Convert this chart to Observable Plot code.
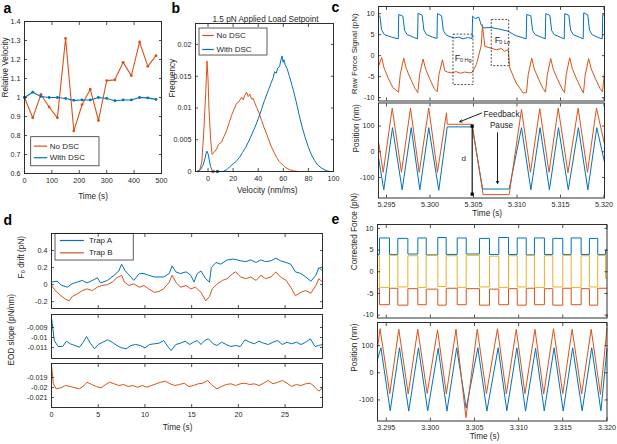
<!DOCTYPE html>
<html>
<head>
<meta charset="utf-8">
<script src="https://cdn.jsdelivr.net/npm/d3@7"></script>
<script src="https://cdn.jsdelivr.net/npm/@observablehq/plot@0.6"></script>
<style>
  html, body { margin: 0; padding: 0; background: #fff; }
  #fig { position: relative; width: 617px; height: 444px; overflow: hidden; background: #fff; }
  #fig > svg { position: absolute; left: 0; top: 0; }
</style>
</head>
<body>
<div id="fig"></div>
<script>
// ================= DATA =================
// Panel a: relative velocity vs time
const aTime = [0, 30, 60, 90, 120, 150, 180, 210, 240, 270, 300, 330, 360, 390, 420, 450, 480];
const aNoDSC = [1.0, 0.893, 1.016, 0.95, 0.893, 1.311, 0.824, 0.962, 1.044, 0.879, 1.089, 1.093, 1.185, 1.115, 1.292, 1.164, 1.22];
const aWithDSC = [1.0, 1.028, 1.005, 1.0, 1.0, 0.995, 0.985, 0.987, 0.987, 1.0, 0.995, 0.983, 0.987, 0.987, 1.0, 0.998, 0.99];
const aXTicks = [0, 100, 200, 300, 400, 500];
const aYTicks = [0.6, 0.7, 0.8, 0.9, 1, 1.1, 1.2, 1.3, 1.4];

// Panel b: velocity histograms
const bNoVel = [-8, -6.7, -5, -3.5, -1.9, -0.8, 0, 0.8, 2.1, 3.2, 4.8, 6.7, 8.5, 10.7, 12.7, 14.7, 16.7, 18.7, 20.7, 22.7, 24.7, 26.7, 28, 29.3, 30.7, 32, 33.3, 34.7, 36, 37.3, 38.7, 40.7, 42.7, 44.7, 46.7, 48.7, 50.7, 52.7, 54.7, 56.7, 58.7, 60.7, 62.7, 65, 68, 72];
const bNoFreq = [0, 0.0002, 0.0015, 0.0059, 0.0122, 0.0174, 0.0145, 0.0096, 0.0049, 0.0027, 0.003, 0.0035, 0.0043, 0.0046, 0.0055, 0.0064, 0.0076, 0.0088, 0.0098, 0.0107, 0.011, 0.0117, 0.0113, 0.012, 0.0125, 0.0118, 0.0122, 0.0114, 0.0115, 0.0108, 0.0101, 0.0092, 0.008, 0.0069, 0.0059, 0.0048, 0.0038, 0.003, 0.0022, 0.0016, 0.0012, 0.0008, 0.0005, 0.0003, 0.0001, 0];
const bWithVel = [-9, -6, -4, -2.5, -1.5, -0.8, 0, 1, 2, 3, 4, 12, 15, 17, 20, 22.5, 25, 27.5, 30, 32.5, 35, 37.5, 40, 42.5, 45, 47.5, 50, 52, 53, 54.5, 55.5, 57, 58, 59, 59.8, 60.5, 61.5, 63, 65, 67, 68, 70, 72.5, 75, 77.5, 80, 82.5, 85, 87.5, 90, 92.5, 95, 97];
const bWithFreq = [0, 0.0003, 0.001, 0.002, 0.0029, 0.0032, 0.0028, 0.0018, 0.0008, 0.0003, 0, 0, 0.0003, 0.0007, 0.0012, 0.0016, 0.0022, 0.003, 0.0038, 0.0048, 0.0059, 0.007, 0.0083, 0.0097, 0.0112, 0.0125, 0.0138, 0.0148, 0.0157, 0.0155, 0.0163, 0.0165, 0.0175, 0.0182, 0.0172, 0.0176, 0.0168, 0.0162, 0.0149, 0.0135, 0.0128, 0.0112, 0.009, 0.007, 0.0053, 0.0038, 0.0026, 0.0017, 0.001, 0.0006, 0.0003, 0.0001, 0];
const bNoMark = [4];
const bWithMark = [7.5];
const bXTicks = [0, 20, 40, 60, 80, 100];
const bYTicks = [0, 0.005, 0.01, 0.015, 0.02];

// Panel c (top): raw force signal
const cForceTimeA = [5.29408, 5.29425, 5.29443, 5.29475, 5.29560, 5.29635,
  5.29641, 5.29688, 5.29708, 5.29738, 5.29808, 5.29857,
  5.29863, 5.29910, 5.29930, 5.29960, 5.30030, 5.30080,
  5.30086, 5.30133, 5.30153, 5.30183, 5.30230, 5.30280, 5.30330, 5.30380, 5.30430, 5.30484,
  5.30490, 5.30520, 5.30560, 5.30590, 5.30620, 5.30700, 5.30800, 5.30900, 5.30980, 5.31060, 5.31106,
  5.31112, 5.31159, 5.31179, 5.31209, 5.31279, 5.31325,
  5.31331, 5.31378, 5.31398, 5.31428, 5.31498, 5.31543,
  5.31549, 5.31596, 5.31616, 5.31646, 5.31716, 5.31761,
  5.31767, 5.31814, 5.31834, 5.31864, 5.31934, 5.31980,
  5.31986, 5.32006];
const cForceA = [9.5, 9.4, 6.2, 5.0, 4.4, 4.0,
  9.8, 9.4, 6.0, 5.0, 4.4, 4.0,
  10.1, 9.6, 6.1, 5.0, 4.4, 4.1,
  10.0, 9.5, 6.0, 5.0, 4.5, 4.2, 4.4, 4.0, 4.3, 4.1,
  9.4, 8.8, 9.2, 7.2, 6.6, 6.7, 6.3, 5.8, 4.8, 4.3, 4.0,
  9.8, 9.5, 6.0, 5.0, 4.4, 4.0,
  10.0, 9.6, 6.0, 5.0, 4.4, 4.0,
  10.0, 9.6, 6.1, 5.0, 4.4, 4.0,
  10.2, 9.7, 6.0, 5.0, 4.3, 4.0,
  9.8, 9.6];
const cForceTimeB = [5.29408, 5.29443, 5.29473, 5.29523, 5.29573, 5.29638,
  5.29658, 5.29698, 5.29728, 5.29778, 5.29828, 5.29860,
  5.29880, 5.29920, 5.29950, 5.30000, 5.30050, 5.30083,
  5.30103, 5.30143, 5.30170, 5.30200, 5.30250, 5.30300, 5.30350, 5.30400, 5.30450, 5.30485,
  5.30534, 5.30590, 5.30603, 5.30630, 5.30700, 5.30760, 5.30820, 5.30860, 5.30899, 5.30917, 5.30990, 5.31071, 5.31109,
  5.31129, 5.31169, 5.31199, 5.31249, 5.31299, 5.31328,
  5.31348, 5.31388, 5.31418, 5.31468, 5.31518, 5.31546,
  5.31566, 5.31606, 5.31636, 5.31686, 5.31736, 5.31764,
  5.31784, 5.31824, 5.31854, 5.31904, 5.31954, 5.31983,
  5.32006];
const cForceB = [-2.6, -0.4, -3.0, -5.5, -7.6, -8.7,
  -4.5, -0.6, -3.1, -5.6, -7.8, -8.8,
  -4.6, -0.8, -3.2, -5.7, -7.9, -8.6,
  -4.5, -1.0, -3.6, -3.9, -4.1, -3.8, -4.2, -3.9, -4.1, -4.0,
  -2.1, 2.5, 7.4, 2.2, 1.8, 1.4, 1.7, 1.0, 1.5, -2.9, -6.5, -8.9, -8.8,
  -4.5, -0.6, -3.2, -5.6, -7.8, -8.7,
  -4.6, -0.7, -3.3, -5.7, -7.9, -8.8,
  -4.5, -0.5, -3.1, -5.6, -7.8, -8.9,
  -4.6, -0.7, -3.2, -5.6, -7.8, -8.6,
  -4.0];
const cXTicks = [5.295, 5.3, 5.305, 5.31, 5.315, 5.32];
const cForceYTicks = [-10, -5, 0, 5, 10];

// Panel c (bottom): positions
const cPosTimeA = [5.29408, 5.29469, 5.29569, 5.29680, 5.29784, 5.29883, 5.29986, 5.30101, 5.30198, 5.30485, 5.30605, 5.30910, 5.31052, 5.31160, 5.31265, 5.31373, 5.31477, 5.31590, 5.31706, 5.31815, 5.31917, 5.32006];
const cPosA = [-22, -148, 94, -148, 94, -148, 94, -150, 97, 97, -145, -145, 94, -148, 94, -148, 94, -148, 94, -148, 94, -40];
const cPosTimeB = [5.29408, 5.29462, 5.29566, 5.29672, 5.29776, 5.29876, 5.29986, 5.30086, 5.30190, 5.30198, 5.30485, 5.30611, 5.30910, 5.31052, 5.31155, 5.31262, 5.31368, 5.31474, 5.31586, 5.31703, 5.31810, 5.31914, 5.32006];
const cPosB = [40, -80, 170, -80, 170, -80, 170, -80, 152, 107, 107, -167, -167, 165, -80, 168, -80, 170, -82, 170, -80, 170, 30];
const cDTime = [5.30485, 5.30485];
const cDPos = [100, -165];
const cPosYTicks = [-100, 0, 100];

// Panel d: drift and EOD slope
const dTimeA = [0, 0.6, 1.1, 1.7, 2.2, 2.75, 3.3, 3.8, 4.4, 4.9, 5.25, 6.0, 6.7, 7.2, 7.5, 7.9, 8.5, 8.8, 9.4, 9.9, 10.4, 11.0, 11.5, 12.0, 12.6, 12.9, 13.3, 13.8, 14.4, 14.9, 15.25, 15.6, 16.0, 16.5, 16.9, 17.1, 17.6, 18.1, 18.8, 19.5, 20.25, 20.8, 21.3, 21.9, 22.4, 22.9, 23.5, 24.0, 24.5, 25.1, 25.6, 26.1, 26.7, 27.2, 27.75, 28.3, 28.6, 29.0];
const dTrapA = [0.03, 0.04, -0.01, -0.03, 0.01, 0.03, 0.05, 0.02, 0.05, 0.08, 0.02, 0.05, 0.11, 0.16, 0.24, 0.16, 0.09, 0.05, 0.13, 0.13, 0.11, 0.09, 0.09, 0.09, 0.13, 0.22, 0.15, 0.13, 0.15, 0.11, 0.03, 0.13, 0.16, 0.07, 0.03, 0.2, 0.26, 0.24, 0.29, 0.3, 0.28, 0.27, 0.29, 0.26, 0.29, 0.27, 0.28, 0.31, 0.28, 0.26, 0.24, 0.15, 0.13, 0.09, 0.04, 0.11, 0.2, 0.16];
const dTimeB = [0, 0.4, 1.0, 1.5, 1.9, 2.2, 2.75, 3.3, 3.8, 4.4, 4.9, 5.4, 6.0, 6.5, 7.0, 7.5, 7.8, 8.3, 8.8, 9.4, 9.9, 10.4, 11.0, 11.5, 12.0, 12.6, 12.9, 13.3, 13.8, 14.4, 14.9, 15.4, 16.0, 16.5, 16.9, 17.2, 17.75, 18.3, 18.8, 19.4, 19.7, 20.25, 20.8, 21.3, 21.9, 22.4, 22.9, 23.5, 24.0, 24.5, 25.1, 25.6, 26.1, 26.7, 27.2, 27.75, 28.3, 28.6, 29.0];
const dTrapB = [-0.01, -0.07, -0.13, -0.17, -0.19, -0.14, -0.11, -0.07, -0.05, -0.07, -0.03, -0.01, 0, 0.03, 0.08, 0.11, 0.03, -0.01, 0.01, -0.03, -0.01, -0.05, -0.09, -0.08, -0.05, 0.03, 0.11, 0.03, -0.03, -0.01, -0.05, -0.03, -0.09, -0.19, -0.14, -0.05, 0.01, 0.05, 0.07, 0.13, 0.15, 0.09, 0.07, 0.09, 0.05, 0.11, 0.07, 0.09, 0.15, 0.09, 0.05, -0.03, -0.13, -0.09, -0.07, -0.1, -0.01, 0.07, 0.03];
const dSlopeTimeA = [0, 0.3, 0.7, 1.2, 1.6, 2.0, 2.5, 3.0, 3.4, 3.75, 4.2, 4.6, 5.0, 5.5, 6.0, 6.5, 7.0, 7.5, 8.0, 8.5, 9.0, 9.5, 10.0, 10.5, 11.0, 11.5, 12.0, 12.5, 12.8, 13.3, 13.8, 14.3, 14.8, 15.2, 15.6, 16.0, 16.4, 16.8, 17.3, 17.7, 18.2, 18.7, 19.2, 19.7, 20.2, 20.7, 21.2, 21.7, 22.2, 22.7, 23.2, 23.7, 24.2, 24.7, 25.2, 25.7, 26.2, 26.7, 27.2, 27.7, 28.2, 28.6, 29.0];
const dSlopeA = [-0.0080, -0.0103, -0.0109, -0.0109, -0.01037, -0.01063, -0.0108, -0.01097, -0.01047, -0.0099, -0.01063, -0.01113, -0.0107, -0.01047, -0.01023, -0.01047, -0.0108, -0.01103, -0.01113, -0.0108, -0.0107, -0.0108, -0.01103, -0.0107, -0.01063, -0.01057, -0.0103, -0.01097, -0.0113, -0.0107, -0.01057, -0.01037, -0.0107, -0.01047, -0.0103, -0.0107, -0.0103, -0.01013, -0.01063, -0.0108, -0.01047, -0.0107, -0.0109, -0.0108, -0.0109, -0.01023, -0.01047, -0.01063, -0.01037, -0.01057, -0.0107, -0.01047, -0.0103, -0.0107, -0.01047, -0.01063, -0.01047, -0.0107, -0.01047, -0.01013, -0.0109, -0.0108, -0.0107];
const dSlopeTimeB = [0, 0.2, 0.5, 1.0, 1.5, 2.0, 2.5, 3.0, 3.5, 3.8, 4.3, 4.8, 5.3, 5.8, 6.2, 6.7, 7.2, 7.7, 8.2, 8.7, 9.2, 9.7, 10.2, 10.7, 11.2, 11.7, 12.2, 12.7, 13.2, 13.7, 14.2, 14.7, 15.2, 15.7, 16.2, 16.7, 17.2, 17.7, 18.2, 18.7, 19.2, 19.7, 20.2, 20.7, 21.2, 21.7, 22.2, 22.7, 23.2, 23.7, 24.2, 24.7, 25.2, 25.7, 26.2, 26.7, 27.2, 27.7, 28.2, 28.6, 29.0];
const dSlopeB = [-0.0178, -0.01963, -0.02013, -0.02003, -0.0198, -0.0199, -0.02003, -0.02013, -0.0198, -0.01947, -0.0197, -0.0199, -0.02003, -0.0197, -0.01947, -0.01963, -0.0198, -0.0197, -0.0199, -0.0198, -0.01997, -0.0198, -0.01997, -0.0198, -0.01963, -0.01947, -0.01937, -0.01963, -0.0198, -0.0197, -0.01957, -0.0199, -0.0198, -0.01963, -0.01957, -0.0193, -0.0198, -0.02013, -0.0199, -0.0197, -0.01963, -0.0198, -0.01963, -0.01957, -0.0197, -0.01963, -0.0198, -0.01957, -0.0193, -0.01963, -0.01947, -0.0193, -0.01957, -0.0199, -0.0197, -0.0198, -0.01963, -0.01957, -0.01997, -0.02037, -0.02003];
const dXTicks = [0, 5, 10, 15, 20, 25];
const dDriftYTicks = [-0.2, 0, 0.2, 0.4];
const dSlopeAYTicks = [-0.011, -0.01, -0.009];
const dSlopeBYTicks = [-0.021, -0.02, -0.019];

// Panel e: corrected force (square waves) and positions
const eForceTime = [3.29401, 3.29424, 3.29537, 3.29631, 3.29745, 3.29858, 3.29953, 3.30084, 3.30179, 3.30304, 3.30406, 3.30557, 3.30670, 3.30775, 3.30885, 3.30984, 3.31086, 3.31179, 3.31292, 3.31387, 3.31500, 3.31595, 3.31708, 3.31802, 3.31896, 3.31985, 3.32001];
const eForceA = [4.0, 7.8, 4.0, 7.7, 4.1, 7.8, 3.9, 7.9, 4.0, 7.8, 4.1, 7.7, 4.0, 7.9, 4.0, 7.8, 3.9, 7.8, 4.0, 7.7, 4.0, 7.8, 4.0, 7.7, 4.0, 5.0, 5.0];
const eForceB = [-3.9, -7.6, -3.8, -7.7, -3.9, -7.6, -4.0, -7.7, -3.8, -7.6, -3.9, -7.7, -4.0, -7.6, -3.9, -7.7, -3.8, -7.6, -3.9, -7.7, -3.8, -7.6, -3.9, -7.7, -3.8, -3.8, -3.8];
const eForceC = [3.7, -3.6, 3.8, -3.5, 3.7, -3.6, 3.8, -3.4, 3.7, -3.6, 3.8, -3.5, 3.6, -3.6, 3.7, -3.5, 3.8, -3.6, 3.7, -3.5, 3.8, -3.6, 3.7, -3.5, 3.8, -1.5, -1.5];
const ePosTimeA = [3.29401, 3.29440, 3.29545, 3.29650, 3.29755, 3.29865, 3.29970, 3.30088, 3.30188, 3.30298, 3.30406, 3.30538, 3.30640, 3.30768, 3.30866, 3.30980, 3.31078, 3.31192, 3.31290, 3.31402, 3.31505, 3.31612, 3.31720, 3.31828, 3.31932, 3.32001];
const ePosA = [50, 92, -140, 92, -141, 92, -140, 90, -141, 92, -130, 92, -141, 92, -140, 92, -141, 90, -140, 92, -141, 92, -140, 92, -140, 88];
const ePosTimeB = [3.29401, 3.29430, 3.29540, 3.29642, 3.29749, 3.29857, 3.29964, 3.30081, 3.30181, 3.30290, 3.30403, 3.30531, 3.30635, 3.30760, 3.30861, 3.30973, 3.31072, 3.31185, 3.31284, 3.31395, 3.31500, 3.31606, 3.31714, 3.31822, 3.31927, 3.32001];
const ePosB = [90, 162, -77, 160, -78, 160, -76, 158, -78, 160, -165, 160, -77, 162, -78, 160, -77, 160, -78, 162, -77, 160, -78, 160, -80, 165];
const eXTicks = [3.295, 3.3, 3.305, 3.31, 3.315, 3.32];
const eForceYTicks = [-10, -5, 0, 5, 10];
const ePosYTicks = [-100, 0, 100];

// ================= DRAWING =================
const W = 617, H = 444;
const BLUE = "#0072BD", ORANGE = "#D95319", YELLOW = "#EDB120", INK = "#262626";
const FONT = "'Liberation Sans', Arial, Helvetica, sans-serif";
const TICK = 7.2, LAB = 8.2;
const trim = d => String(+(+d).toFixed(6));
const fix3 = d => (+d).toFixed(3);
const blank = () => "";
const fig = document.getElementById("fig");

function panel({box, x, y, xTicks, yTicks, xFmt = trim, yFmt = trim, xTickLabels = true, marks}) {
  const [l, t, r, b] = box;
  const svg = Plot.plot({
    width: W, height: H,
    marginLeft: l, marginTop: t, marginRight: W - r, marginBottom: H - b,
    x: {domain: x}, y: {domain: y},
    style: {background: "none", fontFamily: FONT, fontSize: TICK + "px", color: INK},
    marks: [
      ...marks,
      Plot.frame({stroke: "#1a1a1a", strokeWidth: 0.9}),
      Plot.axisX({ticks: xTicks, anchor: "bottom", tickSize: -3, tickPadding: 7, tickFormat: xTickLabels ? xFmt : blank, label: null, fontSize: TICK, strokeWidth: 0.8}),
      Plot.axisX({ticks: xTicks, anchor: "top", tickSize: -3, tickFormat: blank, label: null, strokeWidth: 0.8}),
      Plot.axisY({ticks: yTicks, anchor: "left", tickSize: -3, tickPadding: 7, tickFormat: yFmt, label: null, fontSize: TICK, strokeWidth: 0.8}),
      Plot.axisY({ticks: yTicks, anchor: "right", tickSize: -3, tickFormat: blank, label: null, strokeWidth: 0.8})
    ]
  });
  fig.append(svg);
}

const ylab = (s, dx, dy = 0) => Plot.text([s], {text: d => d, frameAnchor: "left", rotate: -90, dx, dy, fontSize: LAB, fill: INK});
const xlab = (s, dy, dx = 0) => Plot.text([s], {text: d => d, frameAnchor: "bottom", dx, dy, fontSize: LAB, fill: INK});
const letter = (s, dx, dy) => Plot.text([s], {text: d => d, frameAnchor: "top-left", dx, dy, textAnchor: "start", lineAnchor: "bottom", fontSize: 14, fontWeight: "bold", fill: "#000"});
function legendBox({x1, x2, y1, y2, lx1, lx2, tx, items}) {
  const out = [Plot.rect([0], {x1: () => x1, x2: () => x2, y1: () => y1, y2: () => y2, fill: "white", stroke: INK, strokeWidth: 0.75})];
  for (const it of items) {
    out.push(Plot.link([0], {x1: () => lx1, x2: () => lx2, y1: () => it.y, y2: () => it.y, stroke: it.color, strokeWidth: 1.2}));
    out.push(Plot.text([it.label], {x: () => tx, y: () => it.y, text: d => d, textAnchor: "start", fontSize: 8, fill: INK}));
  }
  return out;
}

// ---- a ----
panel({
  box: [24, 21, 161, 173], x: [0, 500], y: [0.6, 1.4], xTicks: aXTicks, yTicks: aYTicks,
  marks: [
    Plot.line(aNoDSC, {x: aTime, y: aNoDSC, stroke: ORANGE, strokeWidth: 1.1}),
    Plot.dot(aNoDSC, {x: aTime, y: aNoDSC, fill: ORANGE, r: 1.4}),
    Plot.line(aWithDSC, {x: aTime, y: aWithDSC, stroke: BLUE, strokeWidth: 1.1}),
    Plot.dot(aWithDSC, {x: aTime, y: aWithDSC, fill: BLUE, r: 1.4}),
    ...legendBox({x1: 24.5, x2: 273.7, y1: 0.638, y2: 0.791, lx1: 34, lx2: 82.8, tx: 92.3,
      items: [{y: 0.744, color: ORANGE, label: "No DSC"}, {y: 0.683, color: BLUE, label: "With DSC"}]}),
    ylab("Relative Velocity", -19.5),
    xlab("Time (s)", 25),
    letter("a", -21, -9)
  ]
});

// ---- b ----
panel({
  box: [195, 23, 333, 171], x: [-10, 100], y: [0, 0.0233], xTicks: bXTicks, yTicks: bYTicks,
  marks: [
    Plot.line(bNoFreq, {x: bNoVel, y: bNoFreq, stroke: ORANGE, strokeWidth: 1}),
    Plot.line(bWithFreq, {x: bWithVel, y: bWithFreq, stroke: BLUE, strokeWidth: 1}),
    Plot.dot(bNoMark, {x: bNoMark, y: [0], fill: ORANGE, r: 1.8}),
    Plot.dot(bWithMark, {x: bWithMark, y: [0], fill: BLUE, r: 1.8}),
    ...legendBox({x1: -6.8, x2: 47.4, y1: 0.01826, y2: 0.02251, lx1: -4.66, lx2: 4.6, tx: 6.7,
      items: [{y: 0.02141, color: ORANGE, label: "No DSC"}, {y: 0.01921, color: BLUE, label: "With DSC"}]}),
    Plot.text(["1.5 pN Applied Load Setpoint"], {text: d => d, frameAnchor: "top", dy: -7, dx: 1, fontSize: LAB, fill: INK}),
    ylab("Frequency", -23.3),
    xlab("Velocity (nm/ms)", 21.7, 2.7),
    letter("b", -24, -11)
  ]
});

// ---- c top ----
panel({
  box: [378, 6, 604, 100.5], x: [5.29408, 5.32006], y: [-10.8, 11.7], xTicks: cXTicks, yTicks: cForceYTicks, xTickLabels: false,
  marks: [
    Plot.line(cForceA, {x: cForceTimeA, y: cForceA, stroke: BLUE, strokeWidth: 1}),
    Plot.line(cForceB, {x: cForceTimeB, y: cForceB, stroke: ORANGE, strokeWidth: 1}),
    Plot.rect([0], {x1: () => 5.3027, x2: () => 5.3050, y1: () => -7, y2: () => 5, fill: "none", stroke: INK, strokeWidth: 0.8, strokeDasharray: "2,1.5"}),
    Plot.rect([0], {x1: () => 5.3071, x2: () => 5.3091, y1: () => -2.5, y2: () => 8.5, fill: "none", stroke: INK, strokeWidth: 0.8, strokeDasharray: "2,1.5"}),
    Plot.text(["F"], {x: () => 5.30285, y: () => -0.6, text: d => d, textAnchor: "start", fontSize: 9, fill: INK}),
    Plot.text(["0 Hg"], {x: () => 5.30345, y: () => -1.2, text: d => d, textAnchor: "start", fontSize: 5.5, fill: INK}),
    Plot.text(["F"], {x: () => 5.30745, y: () => 3.8, text: d => d, textAnchor: "start", fontSize: 9, fill: INK}),
    Plot.text(["0 Lo"], {x: () => 5.30797, y: () => 3.2, text: d => d, textAnchor: "start", fontSize: 5.5, fill: INK}),
    Plot.axisY({ticks: [], anchor: "left", tickSize: 0, label: "Raw Force Signal (pN)", labelAnchor: "center", labelOffset: 27, labelArrow: "none", fontSize: 8})
  ]
});

// ---- c bottom ----
panel({
  box: [378, 102.5, 604, 197.5], x: [5.29408, 5.32006], y: [-180, 190], xTicks: cXTicks, yTicks: cPosYTicks, xFmt: fix3,
  marks: [
    Plot.line(cPosA, {x: cPosTimeA, y: cPosA, stroke: BLUE, strokeWidth: 1}),
    Plot.line(cPosB, {x: cPosTimeB, y: cPosB, stroke: ORANGE, strokeWidth: 1}),
    Plot.line(cDPos, {x: cDTime, y: cDPos, stroke: "black", strokeWidth: 1.1}),
    Plot.dot(cDPos, {x: cDTime, y: cDPos, symbol: "square", r: 1.8, fill: "black"}),
    Plot.text(["d"], {x: () => 5.30389, y: () => -25, text: d => d, fontSize: 8, fill: INK}),
    Plot.text(["Feedback"], {x: () => 5.30822, y: () => 144, text: d => d, fontSize: LAB, fill: INK}),
    Plot.text(["Pause"], {x: () => 5.30822, y: () => 102, text: d => d, fontSize: LAB, fill: INK}),
    Plot.arrow([0], {x1: () => 5.30592, y1: () => 151, x2: () => 5.30343, y2: () => 117, stroke: "black", strokeWidth: 0.9, headLength: 4}),
    Plot.arrow([0], {x1: () => 5.30776, y1: () => 74, x2: () => 5.30776, y2: () => -123, stroke: "black", strokeWidth: 0.9, headLength: 4}),
    ylab("Position (nm)", -22.5, 2),
    xlab("Time (s)", 18, -4.3),
    letter("c", -47, -91.5)
  ]
});

// ---- d top ----
panel({
  box: [51, 233, 322, 308], x: [0, 29], y: [-0.28, 0.6], xTicks: dXTicks, yTicks: dDriftYTicks, xTickLabels: false,
  marks: [
    Plot.line(dTrapA, {x: dTimeA, y: dTrapA, stroke: BLUE, strokeWidth: 1}),
    Plot.line(dTrapB, {x: dTimeB, y: dTrapB, stroke: ORANGE, strokeWidth: 1}),
    ...legendBox({x1: 0.43, x2: 8.8, y1: 0.283, y2: 0.596, lx1: 0.89, lx2: 3.46, tx: 4.0,
      items: [{y: 0.518, color: BLUE, label: "Trap A"}, {y: 0.373, color: ORANGE, label: "Trap B"}]}),
    ylab("F\u2080 drift (pN)", -30, 7.5),
    letter("d", -48, -9)
  ]
});

// ---- d middle ----
panel({
  box: [51, 314, 322, 358], x: [0, 29], y: [-0.0121, -0.0077], xTicks: dXTicks, yTicks: dSlopeAYTicks, xTickLabels: false,
  marks: [
    Plot.line(dSlopeA, {x: dSlopeTimeA, y: dSlopeA, stroke: BLUE, strokeWidth: 1})
  ]
});

// ---- d bottom ----
panel({
  box: [51, 363, 322, 407], x: [0, 29], y: [-0.022, -0.0176], xTicks: dXTicks, yTicks: dSlopeBYTicks,
  marks: [
    Plot.line(dSlopeB, {x: dSlopeTimeB, y: dSlopeB, stroke: ORANGE, strokeWidth: 1}),
    ylab("EOD slope (pN/nm)", -40.3, -20),
    xlab("Time (s)", 22, -9.5)
  ]
});

// ---- e top ----
panel({
  box: [377, 224, 606.5, 317.5], x: [3.29401, 3.32001], y: [-10.66, 10.9], xTicks: eXTicks, yTicks: eForceYTicks, xTickLabels: false,
  marks: [
    Plot.line(eForceA, {x: eForceTime, y: eForceA, stroke: BLUE, strokeWidth: 1, curve: "step-after"}),
    Plot.line(eForceB, {x: eForceTime, y: eForceB, stroke: ORANGE, strokeWidth: 1, curve: "step-after"}),
    Plot.line(eForceC, {x: eForceTime, y: eForceC, stroke: YELLOW, strokeWidth: 1, curve: "step-after"}),
    ylab("Corrected Force (pN)", -23, -1),
    letter("e", -46, -1)
  ]
});

// ---- e bottom ----
panel({
  box: [377, 322, 606.5, 420.5], x: [3.29401, 3.32001], y: [-177.5, 185], xTicks: eXTicks, yTicks: ePosYTicks, xFmt: fix3,
  marks: [
    Plot.line(ePosA, {x: ePosTimeA, y: ePosA, stroke: BLUE, strokeWidth: 1}),
    Plot.line(ePosB, {x: ePosTimeB, y: ePosB, stroke: ORANGE, strokeWidth: 1}),
    ylab("Position (nm)", -23, 0),
    xlab("Time (s)", 17.5, -7.75)
  ]
});
</script>
</body>
</html>
